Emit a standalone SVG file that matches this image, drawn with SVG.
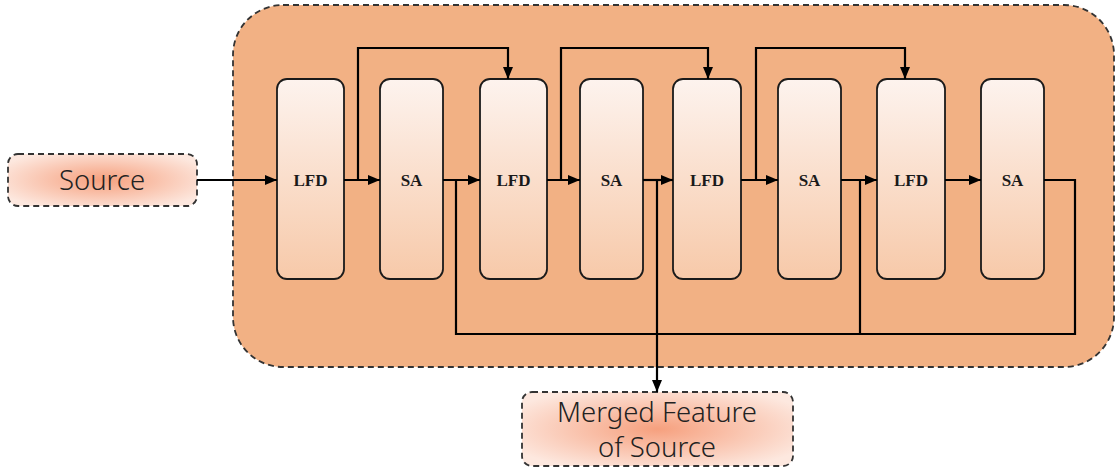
<svg xmlns="http://www.w3.org/2000/svg" width="1116" height="468" viewBox="0 0 1116 468">
  <style>
    .blk { stroke: #1a1a1a; stroke-width: 1.8; fill: url(#blkGrad); }
    .lbl { font-family: "Liberation Serif", "Times New Roman", serif; font-weight: bold; font-size: 17px; fill: #1a1a1a; text-anchor: middle; }
    .io { stroke: #333; stroke-width: 1.8; stroke-dasharray: 6 4; fill: url(#ioGrad); }
    .iotxt { font-family: "Noto Sans", "Open Sans", sans-serif; font-weight: 300; font-size: 27.5px; fill: #222; text-anchor: middle; }
    .wire { stroke: #000; stroke-width: 2.2; fill: none; }
    .arr { marker-end: url(#head); }
  </style>
  <defs>
    <linearGradient id="blkGrad" x1="0" y1="0" x2="0" y2="1">
      <stop offset="0" stop-color="#fdf3ee"/>
      <stop offset="1" stop-color="#f7c9a9"/>
    </linearGradient>
    <radialGradient id="ioGrad" cx="0.5" cy="0.5" r="0.6">
      <stop offset="0" stop-color="#f6a07e"/>
      <stop offset="1" stop-color="#fde8df"/>
    </radialGradient>
    <marker id="head" markerWidth="12" markerHeight="10" refX="12" refY="5" orient="auto" markerUnits="userSpaceOnUse">
      <path d="M0,0 L12,5 L0,10 Z" fill="#000"/>
    </marker>
  </defs>

  <!-- enclosing module -->
  <rect id="module" x="233" y="5" width="881" height="362" rx="50" ry="50" fill="#f2b184" stroke="#333" stroke-width="1.8" stroke-dasharray="6 4"/>

  <!-- input / output -->
  <g id="source">
    <rect class="io" x="8" y="154" width="189" height="52" rx="10"/>
    <text class="iotxt" x="102" y="190">Source</text>
  </g>
  <g id="merged">
    <rect class="io" x="522" y="392" width="271" height="74" rx="10"/>
    <text class="iotxt" x="657" y="422">Merged Feature</text>
    <text class="iotxt" x="657" y="457">of Source</text>
  </g>

  <!-- processing blocks -->
  <g id="lfd1"><rect class="blk" x="277" y="79" width="67" height="200" rx="10"/><text class="lbl" x="310.5" y="186">LFD</text></g>
  <g id="sa1"><rect class="blk" x="380" y="79" width="63" height="200" rx="10"/><text class="lbl" x="411.5" y="186">SA</text></g>
  <g id="lfd2"><rect class="blk" x="480" y="79" width="67" height="200" rx="10"/><text class="lbl" x="513.5" y="186">LFD</text></g>
  <g id="sa2"><rect class="blk" x="580" y="79" width="63" height="200" rx="10"/><text class="lbl" x="611.5" y="186">SA</text></g>
  <g id="lfd3"><rect class="blk" x="673" y="79" width="68" height="200" rx="10"/><text class="lbl" x="707" y="186">LFD</text></g>
  <g id="sa3"><rect class="blk" x="778" y="79" width="63" height="200" rx="10"/><text class="lbl" x="809.5" y="186">SA</text></g>
  <g id="lfd4"><rect class="blk" x="877" y="79" width="68" height="200" rx="10"/><text class="lbl" x="911" y="186">LFD</text></g>
  <g id="sa4"><rect class="blk" x="981" y="79" width="63" height="200" rx="10"/><text class="lbl" x="1012.5" y="186">SA</text></g>

  <!-- connectors -->
  <g id="connectors">
    <!-- main chain -->
    <line class="wire arr" x1="197" y1="180" x2="277" y2="180"/>
    <line class="wire arr" x1="344" y1="180" x2="380" y2="180"/>
    <line class="wire arr" x1="443" y1="180" x2="480" y2="180"/>
    <line class="wire arr" x1="547" y1="180" x2="580" y2="180"/>
    <line class="wire arr" x1="643" y1="180" x2="673" y2="180"/>
    <line class="wire arr" x1="741" y1="180" x2="778" y2="180"/>
    <line class="wire arr" x1="841" y1="180" x2="877" y2="180"/>
    <line class="wire arr" x1="945" y1="180" x2="981" y2="180"/>

    <!-- skip links over the top -->
    <polyline class="wire arr" points="358,180 358,48 508,48 508,79"/>
    <polyline class="wire arr" points="561,180 561,48 708,48 708,79"/>
    <polyline class="wire arr" points="756,180 756,48 905,48 905,79"/>

    <!-- SA outputs gathered along the bottom -->
    <polyline class="wire" points="1044,180 1075,180 1075,334 456,334 456,180"/>
    <line class="wire" x1="860" y1="180" x2="860" y2="334"/>
    <line class="wire arr" x1="657" y1="180" x2="657" y2="392"/>
  </g>
</svg>
